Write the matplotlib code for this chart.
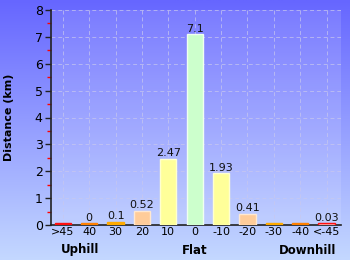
import matplotlib.pyplot as plt
import numpy as np

# gradient categories (percent) and distance per category
grades = ['>45', '40', '30', '20', '10', '0', '-10', '-20', '-30', '-40', '<-45']
distance = [0.06, 0.06, 0.12, 0.52, 2.47, 7.1, 1.93, 0.41, 0.06, 0.06, 0.06]
value_labels = ['', '0', '0.1', '0.52', '2.47', '7.1', '1.93', '0.41', '', '', '0.03']
bar_colors = ['#ff1010', '#ff8000', '#ffaa00', '#ffcc99', '#ffff99', '#ccffcc',
              '#ffff99', '#ffcc99', '#ffaa00', '#ff8000', '#ffdddd']
edge_colors = ['#ff1010', '#ff8000', '#ffaa00', '#ffe8d0', '#ffffd0', '#f0fff0',
               '#ffffd0', '#ffe8d0', '#ffaa00', '#ff8000', '#ff1010']

fig = plt.figure(figsize=(3.5, 2.6), dpi=100)

# background gradient over the whole figure
bg = fig.add_axes([0, 0, 1, 1], zorder=-10)
grad = np.linspace(0, 1, 256).reshape(-1, 1)
top = np.array([0x66, 0x66, 0xff]) / 255
bot = np.array([0xc4, 0xd8, 0xff]) / 255
img = top + (bot - top) * grad[:, :, None]
bg.imshow(img, aspect='auto', extent=[0, 1, 0, 1])
bg.axis('off')

ax = fig.add_axes([51 / 350, 35 / 260, 290 / 350, 215 / 260])
ax.patch.set_facecolor('white')
ax.patch.set_alpha(0.12)

x = np.arange(len(grades))
ax.bar(x, distance, width=0.62, color=bar_colors, edgecolor=edge_colors,
       linewidth=1, zorder=3)
for xi, d, lab in zip(x, distance, value_labels):
    if lab:
        ax.text(xi, d + 0.02, lab, ha='center', va='bottom', fontsize=8,
                color='#111111', zorder=4)

ax.set_xlim(-0.45, 10.55)
ax.set_ylim(0, 8)
ax.set_yticks(range(0, 9))
ax.set_yticks(np.arange(0.5, 8, 1), minor=True)
ax.set_xticks(x)
ax.set_xticklabels(grades, fontsize=8)
ax.tick_params(axis='y', labelsize=9, length=4, width=1, color='#222222', pad=2)
ax.tick_params(axis='y', which='minor', length=3, width=1, color='red')
ax.tick_params(axis='x', length=0, pad=1.5)
ax.grid(True, color='#c8c8ee', linestyle=(0, (4, 3)), linewidth=0.7, alpha=0.7, zorder=0)
for s in ['top', 'right']:
    ax.spines[s].set_visible(False)
for s in ['left', 'bottom']:
    ax.spines[s].set_color('#222222')
    ax.spines[s].set_linewidth(1.2)

ax.set_ylabel('Distance (km)', fontsize=8, fontweight='bold')
ax.yaxis.set_label_coords(-37 / 290, 0.5)

fig.text(80 / 350, 1 - 250 / 260, 'Uphill', ha='center', va='center', fontsize=8.5, fontweight='bold')
fig.text(195 / 350, 1 - 250 / 260, 'Flat', ha='center', va='center', fontsize=8.5, fontweight='bold')
fig.text(308 / 350, 1 - 250 / 260, 'Downhill', ha='center', va='center', fontsize=8.5, fontweight='bold')

fig.savefig('out.png', dpi=100)
